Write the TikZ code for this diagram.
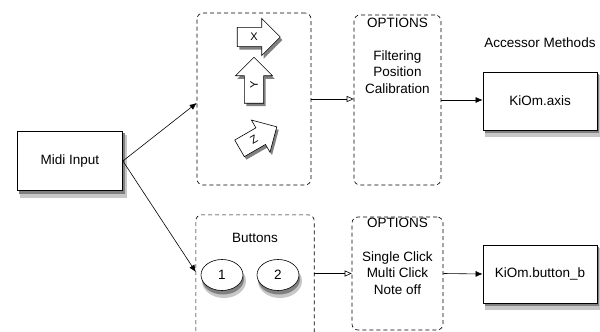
\documentclass[tikz,border=0pt]{standalone}
\usepackage{fontspec}
\setmainfont{Liberation Sans}
\usepackage{tikz}
\usetikzlibrary{arrows.meta,shapes.arrows,shapes.geometric,calc}
\usetikzlibrary{positioning}

\begin{document}
\begin{tikzpicture}[x=1pt,y=-1pt,
    font=\fontsize{13.5}{16.5}\selectfont,
    sbox/.style={draw, thick, fill=white, minimum width=114, minimum height=58},
    group/.style={draw, dashed, dash pattern=on 4pt off 3pt, rounded corners=6pt, semithick, align=center},
    dirarrow/.style={single arrow, draw, semithick, fill=white, font=\fontsize{11}{12}\selectfont,
        single arrow head extend=9pt, single arrow head indent=0pt, inner xsep=3pt, inner ysep=5.5pt,
        minimum height=43},
    btn/.style={ellipse, draw, semithick, fill=white, minimum width=42, minimum height=31},
    softfill/.style={fill=black!22, draw=none},
    darkfill/.style={fill=black!50, draw=none},
    sarrow/.style={-{Latex[length=7pt,width=6pt]}, semithick},
    oarrow/.style={-{Triangle[open,length=7pt,width=6pt]}, semithick}]
            \useasboundingbox (0,0) rectangle (600,332);
            % drop shadows
            \fill[softfill] (20,135) rectangle (127,198);
            \fill[darkfill] (19,133) rectangle (125,194);
            \fill[softfill] (485,75) rectangle (600,137);
            \fill[darkfill] (485,74) rectangle (599,133);
            \fill[softfill] (485,248) rectangle (600,310);
            \fill[darkfill] (485,247) rectangle (599,306);
            \fill[softfill] (224,281) ellipse (22 and 17);
            \fill[darkfill] (223,279) ellipse (21 and 15.5);
            \fill[softfill] (280,281) ellipse (22 and 17);
            \fill[darkfill] (279,279) ellipse (21 and 15.5);
            \node[dirarrow, darkfill] at (256,40) (xdrop) {\phantom{X}};
            \node[dirarrow, darkfill, rotate=90, minimum height=46] at (256,88) (ydrop) {\phantom{Y}};
            \node[dirarrow, darkfill, rotate=30] at (256,143) (zdrop) {\phantom{Z}};
            % blocks
            \node[sbox, minimum width=105, minimum height=59] at (70,161) (midi) {Midi Input};
            \node[group, minimum width=114, minimum height=172] at (254,99) (axes) {};
            \node[minimum width=118, minimum height=130] at (255,280) (buttons) {};
            \draw[group] (buttons.south west) |- (buttons.north east) -- (buttons.south east);
            \node[group, minimum width=87, minimum height=170] at (397.5,100) (opt1) {};
            \node[group, minimum width=91, minimum height=113] at (397.5,273.5) (opt2) {};
            \node[sbox] at (540,101) (axis) {KiOm.axis};
            \node[sbox] at (540,274) (button) {KiOm.button\_b};
            \node at (540,43) (accessor) {Accessor Methods};
            % options text
            \node at (397.5,23) (opt1title) {OPTIONS};
            \node[align=center] at (397.5,72) (opt1list) {Filtering\\Position\\Calibration};
            \node at (397.5,223) (opt2title) {OPTIONS};
            \node[align=center] at (397.5,273) (opt2list) {Single Click\\Multi Click\\Note off};
            % axes
            \node[dirarrow] at (254,37) (xarrow) {X};
            \node[dirarrow, rotate=90, minimum height=46] at (254,85) (yarrow) {Y};
            \node[dirarrow, rotate=30] at (254,140) (zarrow) {Z};
            % buttons
            \node at (255,238) (buttonstitle) {Buttons};
            \node[btn] at (222,275) (b1) {1};
            \node[btn] at (278,275) (b2) {2};
            % connectors
            \draw[sarrow] (midi.east) -- ([yshift=-4pt]axes.west);
            \draw[sarrow] (midi.east) -- ([yshift=8pt]buttons.west);
            \draw[oarrow] (axes.east) -- (axes.east -| opt1.west);
            \draw[oarrow] (buttons.east |- opt2.west) -- (opt2.west);
            \draw[sarrow] (opt1.east) -- (opt1.east -| axis.west);
            \draw[sarrow] (opt2.east) -- (button.west);
        \end{tikzpicture}
\end{document}
